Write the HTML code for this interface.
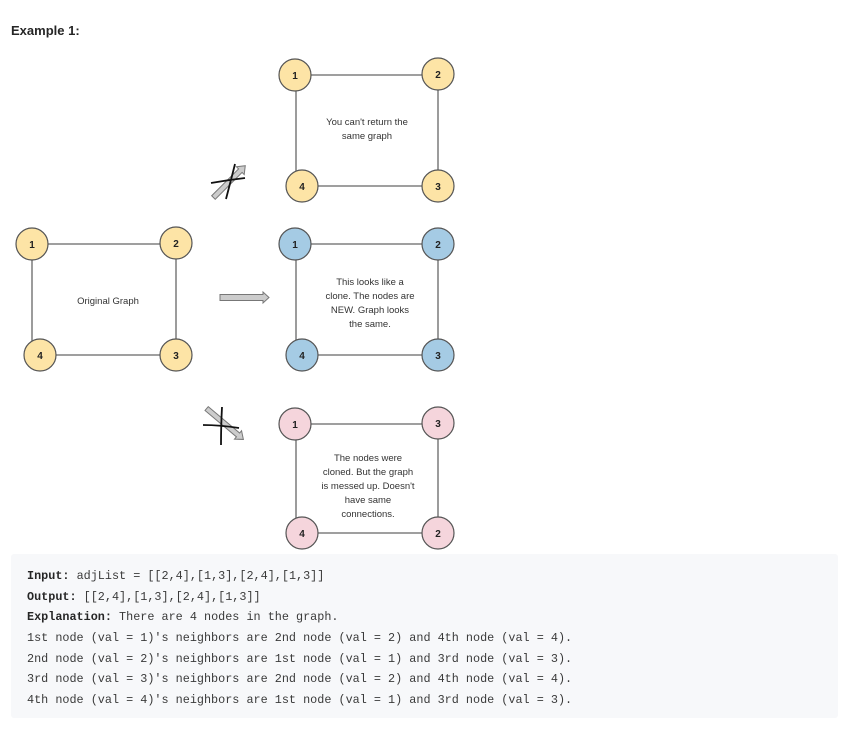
<!DOCTYPE html>
<html><head><meta charset="utf-8"><style>
html,body{margin:0;padding:0;background:#fff;width:849px;height:730px;overflow:hidden}
svg{position:absolute;left:0;top:0}
.n{font-family:"Liberation Sans",sans-serif;font-weight:bold;font-size:10px;fill:#222;text-anchor:middle}
.t{font-family:"Liberation Sans",sans-serif;font-size:9.5px;fill:#333;text-anchor:middle}
.m{font-family:"Liberation Mono",monospace;font-size:11.8px;fill:#3a3a3a}
.b{font-weight:bold;fill:#262626}
</style></head><body>
<svg width="849" height="730" viewBox="0 0 849 730">
<text x="11" y="35" font-family="Liberation Sans,sans-serif" font-weight="bold" font-size="13" fill="#262626">Example 1:</text>
<g stroke="#666" stroke-width="1.3" fill="none">
<path d="M32 244H176M32 244V355M40 355H176M176 243V355"/>
<path d="M295 75H438M296 75V186M302 186H438M438 74V186"/>
<path d="M295 244H438M296 244V355M302 355H438M438 244V355"/>
<path d="M295 424H438M296 424V533M302 533H438M438 423V533"/>
</g>
<g stroke="#555" stroke-width="1.2">
<g fill="#fde4a6">
<circle cx="32" cy="244" r="16"/><circle cx="176" cy="243" r="16"/><circle cx="40" cy="355" r="16"/><circle cx="176" cy="355" r="16"/>
<circle cx="295" cy="75" r="16"/><circle cx="438" cy="74" r="16"/><circle cx="302" cy="186" r="16"/><circle cx="438" cy="186" r="16"/>
</g>
<g fill="#a5cbe4">
<circle cx="295" cy="244" r="16"/><circle cx="438" cy="244" r="16"/><circle cx="302" cy="355" r="16"/><circle cx="438" cy="355" r="16"/>
</g>
<g fill="#f5d5dc">
<circle cx="295" cy="424" r="16"/><circle cx="438" cy="423" r="16"/><circle cx="302" cy="533" r="16"/><circle cx="438" cy="533" r="16"/>
</g>
</g>
<g class="n">
<text x="32" y="248" class="n">1</text><text x="176" y="247" class="n">2</text><text x="40" y="359" class="n">4</text><text x="176" y="359" class="n">3</text>
<text x="295" y="79" class="n">1</text><text x="438" y="78" class="n">2</text><text x="302" y="190" class="n">4</text><text x="438" y="190" class="n">3</text>
<text x="295" y="248" class="n">1</text><text x="438" y="248" class="n">2</text><text x="302" y="359" class="n">4</text><text x="438" y="359" class="n">3</text>
<text x="295" y="428" class="n">1</text><text x="438" y="427" class="n">3</text><text x="302" y="537" class="n">4</text><text x="438" y="537" class="n">2</text>
</g>
<text x="108" y="304" class="t">Original Graph</text>
<text x="367" y="125" class="t">You can't return the</text>
<text x="367" y="139" class="t">same graph</text>
<text x="370" y="285" class="t">This looks like a</text>
<text x="370" y="299" class="t">clone. The nodes are</text>
<text x="370" y="313" class="t">NEW. Graph looks</text>
<text x="370" y="327" class="t">the same.</text>
<text x="368" y="461" class="t">The nodes were</text>
<text x="368" y="475" class="t">cloned. But the graph</text>
<text x="368" y="489" class="t">is messed up. Doesn't</text>
<text x="368" y="503" class="t">have same</text>
<text x="368" y="517" class="t">connections.</text>
<path d="M220 294.5H263V292L269 297.5L263 303V300.5H220Z" fill="#ccc" stroke="#777" stroke-width="1"/>
<g transform="translate(229,182) rotate(-45)">
<path d="M-22 -2.5H16V-5.5L23 0L16 5.5V2.5H-22Z" fill="#ccc" stroke="#777" stroke-width="1"/>
</g>
<path d="M211 183Q228 180 245 178M235 164Q231 180 226 199" stroke="#111" stroke-width="1.8" fill="none"/>
<g transform="translate(225,424) rotate(40)">
<path d="M-24 -2.5H17V-5.5L24 0L17 5.5V2.5H-24Z" fill="#ccc" stroke="#777" stroke-width="1"/>
</g>
<path d="M203 425Q220 425 239 428M222 407Q221 425 221 445" stroke="#111" stroke-width="1.8" fill="none"/>
<rect x="11" y="554" width="827" height="164" rx="3" fill="#f7f8fa"/>
<text class="m" y="579"><tspan x="27" class="b">Input:</tspan> adjList = [[2,4],[1,3],[2,4],[1,3]]</text>
<text class="m" y="600"><tspan x="27" class="b">Output:</tspan> [[2,4],[1,3],[2,4],[1,3]]</text>
<text class="m" y="620"><tspan x="27" class="b">Explanation:</tspan> There are 4 nodes in the graph.</text>
<text class="m" x="27" y="641">1st node (val = 1)'s neighbors are 2nd node (val = 2) and 4th node (val = 4).</text>
<text class="m" x="27" y="662">2nd node (val = 2)'s neighbors are 1st node (val = 1) and 3rd node (val = 3).</text>
<text class="m" x="27" y="682">3rd node (val = 3)'s neighbors are 2nd node (val = 2) and 4th node (val = 4).</text>
<text class="m" x="27" y="703">4th node (val = 4)'s neighbors are 1st node (val = 1) and 3rd node (val = 3).</text>
</svg>
</body></html>
